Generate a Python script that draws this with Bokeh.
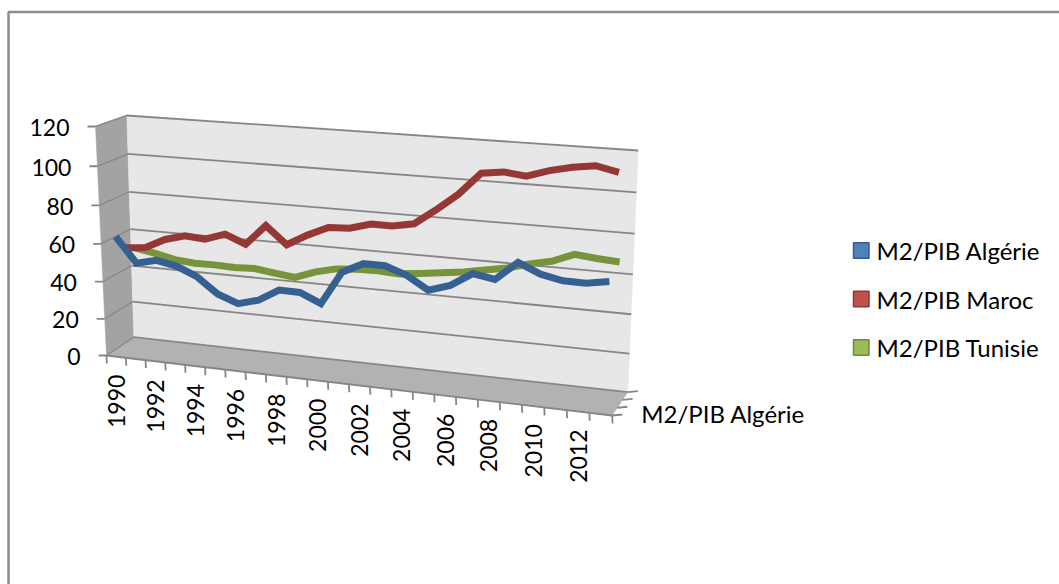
import numpy as np
from bokeh.core.properties import value
from bokeh.embed import file_html
from bokeh.models import Range1d
from bokeh.plotting import figure
from bokeh.resources import INLINE

years = list(range(1990, 2014))
m2_algerie = [63, 50, 52.5, 50.5, 46, 38, 34, 37, 43.3, 43.2, 38.5, 55.7,
              61, 61, 57.2, 50.8, 54.3, 61.2, 59.3, 68.7, 64, 61.8, 61.6, 63.5]
m2_maroc = [54.5, 55.6, 60.8, 63.7, 62.9, 66.5, 62.2, 72.8, 63.9, 69.8, 74.6, 75.2,
            78.2, 78.2, 80.2, 88, 96.5, 107.5, 108.9, 107.7, 111.1, 113.5, 115, 112.7]
m2_tunisie = [51.5, 49.7, 47.3, 46.4, 46.5, 46.1, 46.6, 45.2, 44, 47.9, 50.5, 51.4,
              51.6, 51, 52.2, 53.6, 55.1, 57.1, 59.1, 62.2, 64.5, 68.9, 67.8, 67.1]
value_ticks = [0, 20, 40, 60, 80, 100, 120]
series_names = ["M2/PIB Algérie", "M2/PIB Maroc", "M2/PIB Tunisie"]
depth_label = "M2/PIB Algérie"

VMAX = 120
FONT = value("Lato")
GRID = "#868686"

# Corners of the 3D box as (left-bottom, left-top, right-bottom, right-top)
FRONT = np.array([(106, 355), (95, 126), (611.7, 415), (624, 164)], float)
BACK = np.array([(133.3, 336.7), (126.3, 115), (627.3, 391.7), (637.7, 150)], float)


def warp(t, k):
    return t / (t + (1 - t) * k)


def project(u, v, d):
    """Map (category fraction, value, depth fraction) to page coordinates."""
    uu, vv = warp(u, 1.086), warp(v / VMAX, 1.05)
    def plane(c):
        left = c[0] + (c[1] - c[0]) * vv
        right = c[2] + (c[3] - c[2]) * vv
        return left + (right - left) * uu
    return plane(FRONT) + (plane(BACK) - plane(FRONT)) * d


p = figure(width=1059, height=584, output_backend="svg", toolbar_location=None,
           x_range=Range1d(0, 1059), y_range=Range1d(584, 0), min_border=0,
           outline_line_color=None, background_fill_color="white",
           border_fill_color="white")
p.axis.visible = False
p.grid.visible = False

# Chart frame: only the top and left edges show
p.line([8, 8, 1059], [584, 11.5, 11.5], line_color="#8c8c8c", line_width=2.5)


def face(points, color):
    xs, ys = zip(*points)
    p.patch(list(xs), list(ys), fill_color=color, line_color=color, line_width=0.5)


def seg(a, b, width=1.8, color=GRID):
    p.line([a[0], b[0]], [a[1], b[1]], line_color=color, line_width=width)


# Walls and floor
face([project(0, 0, 0), project(0, VMAX, 0), project(0, VMAX, 1), project(0, 0, 1)], "#a3a3a3")
face([project(0, 0, 0), project(1, 0, 0), project(1, 0, 1), project(0, 0, 1)], "#b2b2b2")
face([project(0, 0, 1), project(0, VMAX, 1), project(1, VMAX, 1), project(1, 0, 1)], "#e7e7e7")

# Value gridlines, ticks and labels
for tick in value_ticks:
    front = project(0, tick, 0)
    back = project(0, tick, 1)
    seg(front, back, 1.5, "#8a8a8a")
    seg(back, project(1, tick, 1))
    seg((front[0] - 8, front[1]), front)
    p.text([front[0] - 26], [front[1] + 1], text=[str(tick)], text_font=FONT,
           text_font_size="23px", text_align="right", text_baseline="middle",
           text_color="#000000")

seg(project(0, 0, 0), project(1, 0, 0))

# Category ticks and rotated year labels
n = len(years)
for i in range(n + 1):
    a = project(i / n, 0, 0)
    seg(a, (a[0] + 0.3, a[1] + 8))
for i, year in enumerate(years):
    if i % 2 == 0:
        a = project((i + 0.5) / n, 0, 0)
        p.text([a[0]], [a[1] + 18], text=[str(year)], text_font=FONT,
               text_font_size="23px", text_align="right", text_baseline="middle",
               angle=np.pi / 2, text_color="#000000")

# Depth ticks on the right edge of the floor
for d in (0, 1 / 3, 2 / 3, 1):
    a = project(1, 0, d)
    seg(a, (a[0] + 10, a[1] - 1))
a = project(1, 0, 0)
p.text([a[0] + 29], [a[1] - 2], text=[depth_label], text_font=FONT,
       text_font_size="24px", text_align="left", text_baseline="middle",
       text_color="#000000")

# Series ribbons, farthest first
ribbons = [(m2_tunisie, 5 / 6, "#77933c"), (m2_maroc, 0.5, "#953735"), (m2_algerie, 1 / 6, "#376092")]
for vals, depth, color in ribbons:
    pts = np.array([project((i + 0.5) / n, v, depth) for i, v in enumerate(vals)])
    p.line(pts[:, 0], pts[:, 1], line_color=color, line_width=7,
           line_join="miter", line_cap="butt")

# Legend
legend_x = [853, 868.5]
legend_fill = ["#4f81bd", "#c0504d", "#9bbb59"]
legend_edge = ["#385d8a", "#8c3836", "#71893f"]
legend_y = [250, 298.5, 347]
for name, fill, edge, y in zip(series_names, legend_fill, legend_edge, legend_y):
    p.quad(left=[legend_x[0]], right=[legend_x[1]], top=[y - 7.8], bottom=[y + 7.8],
           fill_color=fill, line_color=edge, line_width=1.5)
    p.text([876], [y], text=[name], text_font=FONT, text_font_size="24px",
           text_align="left", text_baseline="middle", text_color="#000000")

open("out.html", "w").write(file_html(p, INLINE))
